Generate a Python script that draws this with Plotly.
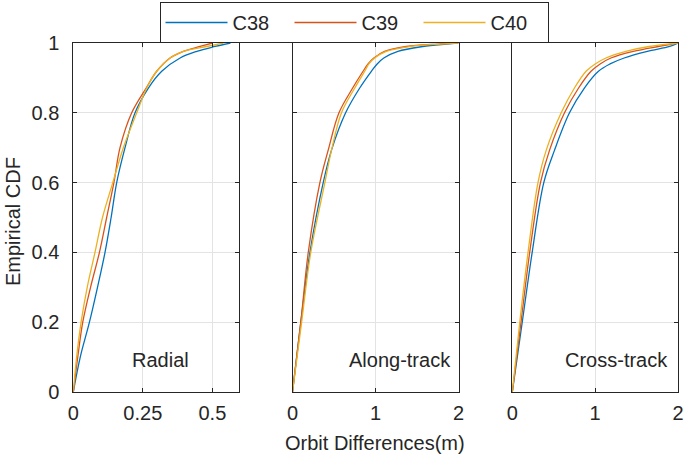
import plotly.graph_objects as go

# ---------------- data ----------------
series_names = ["C38", "C39", "C40"]
colors = ["#0072BD", "#D95319", "#EDB120"]

# Radial panel: orbit difference (m) at given CDF levels
radial_cdf = [0, 0.1, 0.2, 0.3, 0.4, 0.5, 0.6, 0.7, 0.8, 0.871, 0.919, 0.957, 0.976, 0.99, 1.0]
radial_c38 = [0, 0.025, 0.058, 0.087, 0.114, 0.136, 0.156, 0.186, 0.222, 0.27, 0.318, 0.384, 0.444, 0.51, 0.565]
radial_c39 = [0, 0.016, 0.034, 0.062, 0.094, 0.12, 0.146, 0.168, 0.21, 0.262, 0.30, 0.348, 0.396, 0.456, 0.50]
radial_c40 = [0, 0.012, 0.028, 0.05, 0.078, 0.105, 0.142, 0.18, 0.228, 0.264, 0.30, 0.348, 0.396, 0.48, 0.54]

# Along-track panel
along_cdf = [0, 0.2, 0.4, 0.6, 0.693, 0.8, 0.871, 0.919, 0.94, 0.957, 0.976, 0.99, 0.997, 1.0]
along_c38 = [0, 0.10, 0.21, 0.37, 0.47, 0.64, 0.81, 0.95, 1.02, 1.10, 1.27, 1.57, 1.85, 2.0]
along_c39 = [0, 0.10, 0.19, 0.33, 0.43, 0.56, 0.725, 0.85, 0.91, 0.98, 1.11, 1.37, 1.75, 2.0]
along_c40 = [0, 0.11, 0.22, 0.39, 0.47, 0.59, 0.75, 0.87, 0.92, 0.99, 1.13, 1.42, 1.78, 2.0]

# Cross-track panel
cross_cdf = [0, 0.2, 0.4, 0.6, 0.693, 0.8, 0.871, 0.919, 0.94, 0.957, 0.976, 0.99, 1.0]
cross_c38 = [0, 0.12, 0.24, 0.38, 0.51, 0.69, 0.87, 1.04, 1.18, 1.35, 1.63, 1.90, 2.0]
cross_c39 = [0, 0.105, 0.21, 0.34, 0.45, 0.63, 0.80, 0.95, 1.06, 1.19, 1.46, 1.76, 2.0]
cross_c40 = [0, 0.09, 0.19, 0.31, 0.41, 0.59, 0.75, 0.89, 1.00, 1.13, 1.37, 1.65, 2.0]

panel_labels = ["Radial", "Along-track", "Cross-track"]
y_ticks = [0, 0.2, 0.4, 0.6, 0.8, 1]
y_ticklabels = ["0", "0.2", "0.4", "0.6", "0.8", "1"]
radial_xticks = [0, 0.25, 0.5]
radial_xticklabels = ["0", "0.25", "0.5"]
other_xticks = [0, 1, 2]
other_xticklabels = ["0", "1", "2"]

# ---------------- figure ----------------
W, H = 685, 459
FONT = "Liberation Sans, Arial, Helvetica, sans-serif"
fig = go.Figure()

panels = [
    (radial_cdf, [radial_c38, radial_c39, radial_c40], "x", "y"),
    (along_cdf, [along_c38, along_c39, along_c40], "x2", "y2"),
    (cross_cdf, [cross_c38, cross_c39, cross_c40], "x3", "y3"),
]
for p, (cdf, xs, xa, ya) in enumerate(panels):
    for s, xv in enumerate(xs):
        fig.add_trace(go.Scatter(
            x=xv, y=cdf, mode="lines", name=series_names[s],
            line=dict(color=colors[s], width=1.3, shape="spline", smoothing=1.0),
            xaxis=xa, yaxis=ya, showlegend=(p == 0),
        ))

doms = [(73.3, 238.5), (292.5, 458.5), (512.3, 678.0)]
ydom = [1 - 392 / H, 1 - 43 / H]
axcommon = dict(
    showline=True, linecolor="#262626", linewidth=1, mirror="ticks",
    ticks="inside", ticklen=4, tickcolor="#262626",
    showgrid=True, gridcolor="#e3e3e3", gridwidth=1, zeroline=False,
    automargin=False,
    tickfont=dict(family=FONT, size=20, color="#262626"),
)
ranges = [[0, 0.594], [0, 2], [0, 2]]
for i in range(3):
    xk = "xaxis" if i == 0 else f"xaxis{i+1}"
    yk = "yaxis" if i == 0 else f"yaxis{i+1}"
    tv = radial_xticks if i == 0 else other_xticks
    tt = radial_xticklabels if i == 0 else other_xticklabels
    fig.layout[xk] = dict(axcommon, domain=[doms[i][0] / W, doms[i][1] / W],
                          range=ranges[i], tickvals=tv, ticktext=tt,
                          anchor="y" if i == 0 else f"y{i+1}", ticklabelstandoff=3)
    fig.layout[yk] = dict(axcommon, domain=ydom, range=[0, 1],
                          tickvals=y_ticks, ticktext=y_ticklabels,
                          showticklabels=(i == 0),
                          anchor="x" if i == 0 else f"x{i+1}", ticklabelstandoff=9)

# panel labels
label_pos = [(0.312, 0.092, "center"), (1.93, 0.092, "right"), (1.9, 0.092, "right")]
for i, (lx, ly, anc) in enumerate(label_pos):
    fig.add_annotation(
        x=lx, y=ly, xref="x" if i == 0 else f"x{i+1}", yref="y" if i == 0 else f"y{i+1}",
        text=panel_labels[i], showarrow=False, xanchor=anc, yanchor="middle",
        font=dict(family=FONT, size=20, color="#262626"),
    )

# axis titles
fig.add_annotation(x=375 / W, y=1 - 443 / H, xref="paper", yref="paper",
                   text="Orbit Differences(m)", showarrow=False,
                   xanchor="center", yanchor="middle",
                   font=dict(family=FONT, size=20, color="#262626"))
fig.add_annotation(x=13 / W, y=1 - 222 / H, xref="paper", yref="paper",
                   text="Empirical CDF", showarrow=False, textangle=-90,
                   xanchor="center", yanchor="middle",
                   font=dict(family=FONT, size=20, color="#262626"))

fig.update_layout(
    width=W, height=H,
    margin=dict(l=0, r=0, t=0, b=0, pad=0, autoexpand=False),
    paper_bgcolor="white", plot_bgcolor="white",
    legend=dict(
        orientation="h", x=354 / W, y=1 - 2 / H, xanchor="center", yanchor="top",
        bordercolor="#262626", borderwidth=1, bgcolor="white",
        font=dict(family=FONT, size=20, color="#262626"),
        entrywidth=52, entrywidthmode="pixels", itemwidth=62,
        tracegroupgap=0,
    ),
)

fig.write_html(
    "out.html",
    config={"displayModeBar": False},
    post_script="document.body.style.margin='0px';document.body.style.overflow='hidden';",
)
